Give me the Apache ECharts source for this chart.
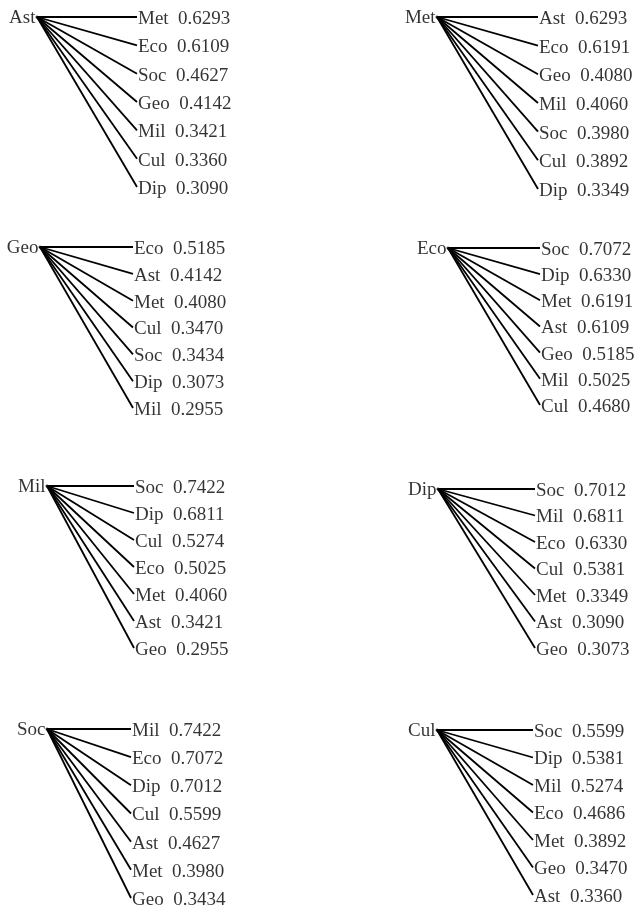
<!DOCTYPE html>
<html>
<head>
<meta charset="utf-8">
<script src="https://cdn.jsdelivr.net/npm/echarts@6/dist/echarts.min.js"></script>
<style>
html,body{margin:0;padding:0;background:#fff;}
#chart{width:639px;height:907px;}
</style>
</head>
<body>
<div id="chart"></div>
<script>
// ---- Data ----
const roots = ['Ast', 'Met', 'Geo', 'Eco', 'Mil', 'Dip', 'Soc', 'Cul'];

const astNames = ['Met', 'Eco', 'Soc', 'Geo', 'Mil', 'Cul', 'Dip'];
const astValues = [0.6293, 0.6109, 0.4627, 0.4142, 0.3421, 0.3360, 0.3090];

const metNames = ['Ast', 'Eco', 'Geo', 'Mil', 'Soc', 'Cul', 'Dip'];
const metValues = [0.6293, 0.6191, 0.4080, 0.4060, 0.3980, 0.3892, 0.3349];

const geoNames = ['Eco', 'Ast', 'Met', 'Cul', 'Soc', 'Dip', 'Mil'];
const geoValues = [0.5185, 0.4142, 0.4080, 0.3470, 0.3434, 0.3073, 0.2955];

const ecoNames = ['Soc', 'Dip', 'Met', 'Ast', 'Geo', 'Mil', 'Cul'];
const ecoValues = [0.7072, 0.6330, 0.6191, 0.6109, 0.5185, 0.5025, 0.4680];

const milNames = ['Soc', 'Dip', 'Cul', 'Eco', 'Met', 'Ast', 'Geo'];
const milValues = [0.7422, 0.6811, 0.5274, 0.5025, 0.4060, 0.3421, 0.2955];

const dipNames = ['Soc', 'Mil', 'Eco', 'Cul', 'Met', 'Ast', 'Geo'];
const dipValues = [0.7012, 0.6811, 0.6330, 0.5381, 0.3349, 0.3090, 0.3073];

const socNames = ['Mil', 'Eco', 'Dip', 'Cul', 'Ast', 'Met', 'Geo'];
const socValues = [0.7422, 0.7072, 0.7012, 0.5599, 0.4627, 0.3980, 0.3434];

const culNames = ['Soc', 'Dip', 'Mil', 'Eco', 'Met', 'Geo', 'Ast'];
const culValues = [0.5599, 0.5381, 0.5274, 0.4686, 0.3892, 0.3470, 0.3360];

const leafNames = [astNames, metNames, geoNames, ecoNames, milNames, dipNames, socNames, culNames];
const leafValues = [astValues, metValues, geoValues, ecoValues, milValues, dipValues, socValues, culValues];

// ---- Layout (pixel boxes for each small fan diagram) ----
const boxes = [
  {left: 37,  top: 17,  width: 100, height: 170},
  {left: 437, top: 17,  width: 101, height: 172},
  {left: 40,  top: 247, width: 93,  height: 161},
  {left: 448, top: 248, width: 92,  height: 157},
  {left: 47,  top: 486, width: 87,  height: 162},
  {left: 438, top: 489, width: 97,  height: 159},
  {left: 47,  top: 729, width: 84,  height: 169},
  {left: 437, top: 730, width: 96,  height: 165}
];

const font = "'Liberation Serif', 'Times New Roman', serif";
const grids = [], xAxes = [], yAxes = [], series = [];

roots.forEach((root, p) => {
  const b = boxes[p];
  const names = leafNames[p];
  const vals = leafValues[p];
  grids.push({left: b.left, top: b.top, width: b.width, height: b.height, containLabel: false});
  xAxes.push({type: 'value', gridIndex: p, min: 0, max: 1, show: false});
  yAxes.push({type: 'value', gridIndex: p, min: 0, max: names.length - 1, inverse: true, show: false});

  series.push({
    type: 'lines',
    coordinateSystem: 'cartesian2d',
    xAxisIndex: p, yAxisIndex: p,
    silent: true,
    lineStyle: {color: '#000', width: 1.8, opacity: 1},
    data: names.map((n, i) => ({coords: [[0, 0], [1, i]]}))
  });

  series.push({
    type: 'scatter',
    xAxisIndex: p, yAxisIndex: p,
    symbolSize: 0,
    silent: true,
    label: {
      show: true, position: 'right', distance: 1, offset: [0, 2],
      color: '#000', fontFamily: font, fontSize: 19,
      formatter: (d) => d.data.name + '  ' + d.data.v.toFixed(4)
    },
    data: names.map((n, i) => ({name: n, v: vals[i], value: [1, i]}))
  });

  series.push({
    type: 'scatter',
    xAxisIndex: p, yAxisIndex: p,
    symbolSize: 3,
    itemStyle: {color: '#000'},
    silent: true,
    label: {
      show: true, position: 'left', distance: 0, offset: [0, 1],
      color: '#000', fontFamily: font, fontSize: 19,
      formatter: root
    },
    data: [[0, 0]]
  });
});

const chart = echarts.init(document.getElementById('chart'), null, {renderer: 'canvas'});
chart.setOption({
  animation: false,
  backgroundColor: '#fff',
  grid: grids,
  xAxis: xAxes,
  yAxis: yAxes,
  series: series
});
</script>
</body>
</html>
